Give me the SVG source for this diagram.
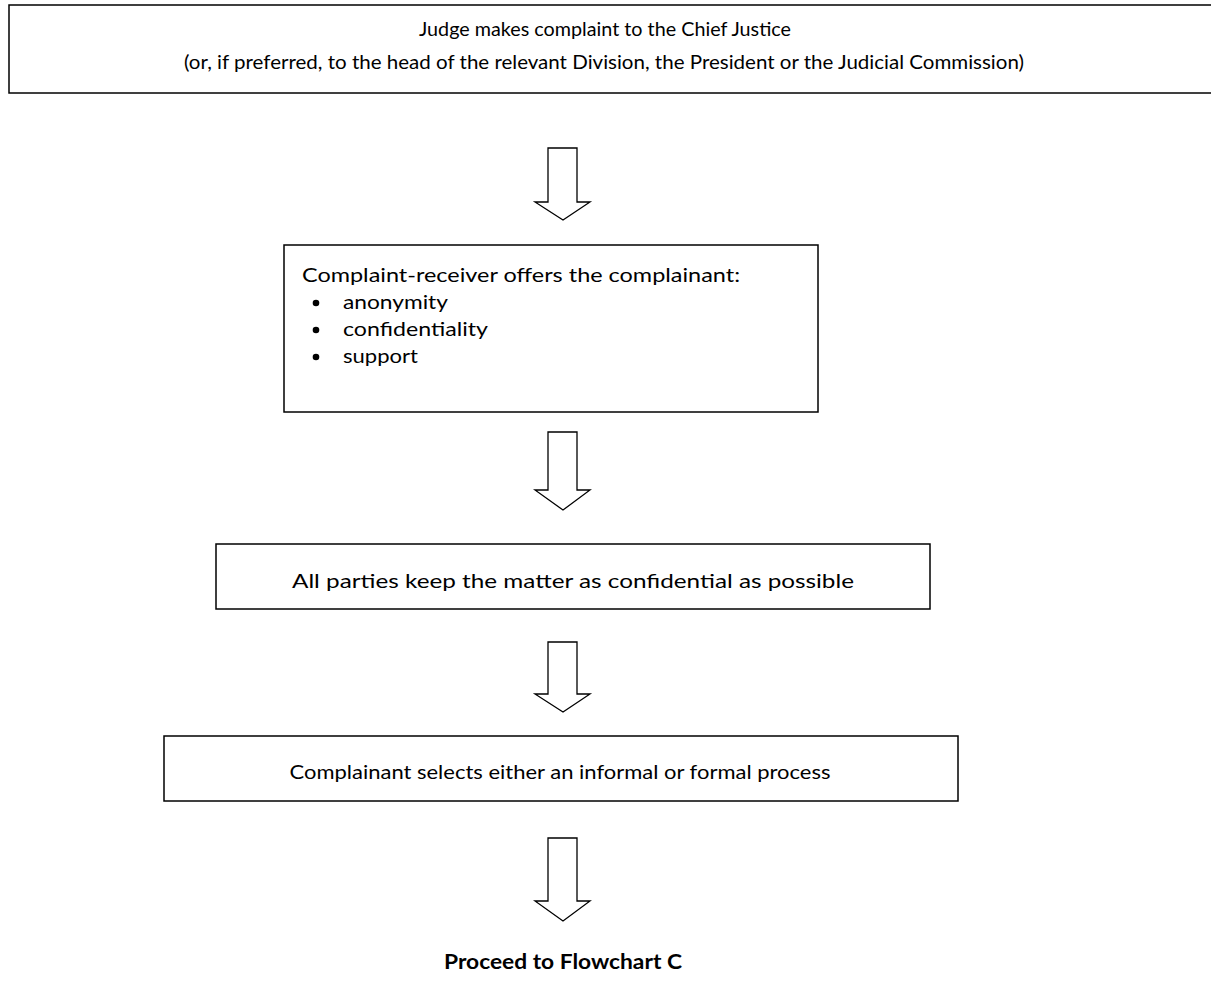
<svg xmlns="http://www.w3.org/2000/svg" width="1211" height="1002" viewBox="0 0 1211 1002">
<style>
.box{fill:#fff;stroke:#000;stroke-width:1.5}
.arr{fill:#fff;stroke:#000;stroke-width:1.3;stroke-linejoin:miter}
.t{font-family:Lato,"Liberation Sans",sans-serif;font-size:19px;fill:#000}
.b{font-family:Lato,"Liberation Sans",sans-serif;font-size:20px;font-weight:bold;fill:#000}
</style>
<rect width="1211" height="1002" fill="#fff"/>
<g id="n1">
<rect class="box" x="9" y="5" width="1215" height="88"/>
<text class="t" x="605" y="36" text-anchor="middle" textLength="372" lengthAdjust="spacingAndGlyphs">Judge makes complaint to the Chief Justice</text>
<text class="t" x="604" y="69" text-anchor="middle" textLength="840" lengthAdjust="spacingAndGlyphs">(or, if preferred, to the head of the relevant Division, the President or the Judicial Commission)</text>
</g>
<g id="n2">
<rect class="box" x="284" y="245" width="534" height="167"/>
<text class="t" x="302" y="282" textLength="438" lengthAdjust="spacingAndGlyphs">Complaint-receiver offers the complainant:</text>
<circle cx="316" cy="303" r="3.3"/>
<circle cx="316" cy="330" r="3.3"/>
<circle cx="316" cy="357" r="3.3"/>
<text class="t" x="343" y="309" textLength="105" lengthAdjust="spacingAndGlyphs">anonymity</text>
<text class="t" x="343" y="336" textLength="145" lengthAdjust="spacingAndGlyphs">confidentiality</text>
<text class="t" x="343" y="363" textLength="75" lengthAdjust="spacingAndGlyphs">support</text>
</g>
<g id="n3">
<rect class="box" x="216" y="544" width="714" height="65"/>
<text class="t" x="573" y="588" text-anchor="middle" textLength="562" lengthAdjust="spacingAndGlyphs">All parties keep the matter as confidential as possible</text>
</g>
<g id="n4">
<rect class="box" x="164" y="736" width="794" height="65"/>
<text class="t" x="560" y="779" text-anchor="middle" textLength="541" lengthAdjust="spacingAndGlyphs">Complainant selects either an informal or formal process</text>
</g>
<g id="n5">
<text class="b" x="563" y="969" text-anchor="middle" textLength="238" lengthAdjust="spacingAndGlyphs">Proceed to Flowchart C</text>
</g>
<g id="connectors">
<path class="arr" d="M548 148 H577 V202 H590 L563 220 L535 202 H548 Z"/>
<path class="arr" d="M548 432 H577 V490 H590 L563 510 L535 490 H548 Z"/>
<path class="arr" d="M548 642 H577 V694 H590 L563 712 L535 694 H548 Z"/>
<path class="arr" d="M548 838 H577 V901 H590 L563 921 L535 901 H548 Z"/>
</g>
</svg>
